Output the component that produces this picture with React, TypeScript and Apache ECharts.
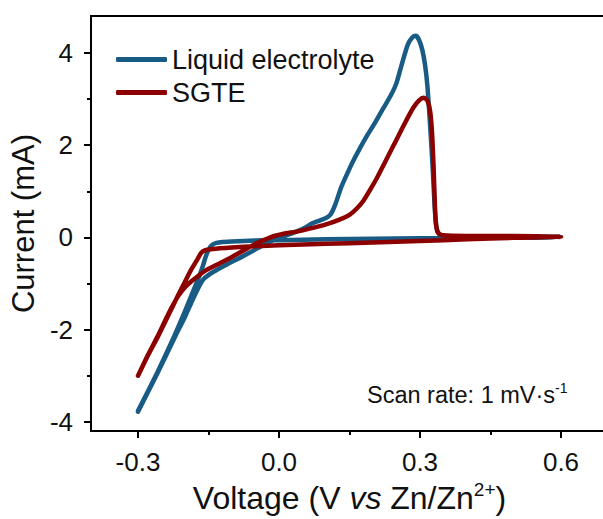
import React, { useEffect, useRef } from "react";
import * as echarts from "echarts";

// Liquid electrolyte CV (forward sweep from -0.3 V, then return)
const liquidV = [
  -0.3, -0.26, -0.222, -0.2, -0.185, -0.172, -0.16, -0.145, -0.13, -0.11, -0.09, -0.07, -0.05, -0.03, -0.012,
  0.0, 0.02, 0.038, 0.055, 0.07, 0.085, 0.1, 0.11, 0.12, 0.132, 0.145, 0.157, 0.172, 0.187, 0.205, 0.222,
  0.238, 0.25, 0.262, 0.274, 0.284, 0.291, 0.298, 0.305, 0.311, 0.316, 0.322, 0.327, 0.331, 0.335, 0.341,
  0.36, 0.45, 0.6,
  0.5, 0.4, 0.3, 0.2, 0.1, 0.0, -0.05, -0.1, -0.12, -0.133, -0.143, -0.15, -0.156, -0.162, -0.17, -0.18,
  -0.2, -0.222, -0.26, -0.3,
];
const liquidI = [
  -3.78, -2.97, -2.17, -1.72, -1.38, -1.1, -0.9, -0.78, -0.69, -0.58, -0.48, -0.37, -0.26, -0.15, -0.06,
  -0.01, 0.06, 0.13, 0.21, 0.3, 0.36, 0.42, 0.5, 0.72, 1.08, 1.38, 1.64, 1.93, 2.2, 2.5, 2.8,
  3.08, 3.35, 3.78, 4.18, 4.34, 4.37, 4.28, 4.06, 3.72, 3.25, 2.35, 1.5, 0.7, 0.22, 0.07,
  0.03, 0.02, 0.01,
  -0.01, -0.01, -0.02, -0.03, -0.04, -0.06, -0.07, -0.09, -0.1, -0.12, -0.17, -0.27, -0.42, -0.62, -0.85, -1.1,
  -1.6, -2.12, -2.95, -3.76,
];

// SGTE CV
const sgteV = [
  -0.3, -0.28, -0.258, -0.235, -0.215, -0.2, -0.185, -0.17, -0.155, -0.13, -0.103, -0.085, -0.068, -0.05,
  -0.03, -0.01, 0.01, 0.04, 0.07, 0.1, 0.13, 0.15, 0.165, 0.18, 0.195, 0.21, 0.225, 0.24, 0.255, 0.27,
  0.285, 0.298, 0.308, 0.316, 0.322, 0.326, 0.329, 0.331, 0.333, 0.337, 0.345, 0.4, 0.5, 0.6,
  0.5, 0.4, 0.3, 0.2, 0.1, 0.0, -0.05, -0.1, -0.14, -0.158, -0.166, -0.175, -0.187, -0.2, -0.215, -0.235,
  -0.258, -0.28, -0.3,
];
const sgteI = [
  -3.0, -2.57, -2.14, -1.65, -1.28, -1.08, -0.94, -0.82, -0.71, -0.58, -0.44, -0.34, -0.24, -0.14,
  -0.05, 0.03, 0.08, 0.13, 0.2, 0.28, 0.39, 0.49, 0.62, 0.8, 1.05, 1.32, 1.62, 1.92, 2.22, 2.52,
  2.8, 2.97, 3.03, 2.96, 2.7, 2.2, 1.5, 0.9, 0.4, 0.12, 0.05, 0.03, 0.03, 0.02,
  -0.01, -0.04, -0.08, -0.11, -0.14, -0.17, -0.19, -0.22, -0.25, -0.28, -0.34, -0.5, -0.7, -0.96, -1.26, -1.68,
  -2.16, -2.58, -3.0,
];

const xLabelValues = [-0.3, 0.0, 0.3, 0.6];
const xMinorValues = [-0.15, 0.15, 0.45];
const yLabelValues = [-4, -2, 0, 2, 4];
const yMinorValues = [-3, -1, 1, 3];

const seriesNames = ["Liquid electrolyte", "SGTE"];
const seriesColors = ["#185b85", "#8c0000"];

const FONT = "'Liberation Sans', Arial, sans-serif";
const TEXT = "#111";

const zip = (a: number[], b: number[]) => a.map((v, i) => [v, b[i]]);

export default function App() {
  const ref = useRef<HTMLDivElement>(null);
  useEffect(() => {
    if (!ref.current) return;
    const chart = echarts.init(ref.current, null, { renderer: "svg" });
    const tickStyle = { color: "#000", width: 2 };
    chart.setOption({
      animation: false,
      backgroundColor: "#ffffff",
      grid: {
        left: 86,
        top: 16,
        width: 522,
        height: 421,
        show: true,
        borderColor: "#000",
        borderWidth: 2,
        backgroundColor: "transparent",
      },
      legend: {
        orient: "vertical",
        left: 111,
        top: 41,
        itemWidth: 51,
        itemHeight: 5,
        itemGap: 6,
        icon: "roundRect",
        data: seriesNames,
        textStyle: { fontFamily: FONT, fontSize: 27, color: TEXT, lineHeight: 27 },
      },
      xAxis: [
        {
          type: "value",
          min: -0.4,
          max: 0.7,
          position: "bottom",
          splitLine: { show: false },
          axisLine: { show: true, onZero: false, lineStyle: { color: "#000", width: 2 } },
          axisTick: { show: true, customValues: xLabelValues, length: 7, lineStyle: tickStyle },
          axisLabel: {
            customValues: xLabelValues,
            formatter: (v: number) => v.toFixed(1),
            fontFamily: FONT,
            fontSize: 26,
            color: TEXT,
            margin: 18,
          },
          name: "{a|Voltage (V }{i|vs}{a| Zn/Zn}{s|2+}{a|)}",
          nameLocation: "middle",
          nameGap: 42,
          nameTextStyle: {
            rich: {
              a: { fontFamily: FONT, fontSize: 32, color: TEXT, lineHeight: 36 },
              i: { fontFamily: FONT, fontSize: 32, fontStyle: "italic", color: TEXT, lineHeight: 36 },
              s: { fontFamily: FONT, fontSize: 19, color: TEXT, lineHeight: 19, verticalAlign: "top" },
            },
          },
        },
        {
          type: "value",
          min: -0.4,
          max: 0.7,
          position: "bottom",
          splitLine: { show: false },
          axisLine: { show: false, onZero: false },
          axisTick: { show: true, customValues: xMinorValues, length: 4, lineStyle: tickStyle },
          axisLabel: { show: false },
        },
      ],
      yAxis: [
        {
          type: "value",
          min: -4.2,
          max: 4.8,
          position: "left",
          splitLine: { show: false },
          axisLine: { show: true, onZero: false, lineStyle: { color: "#000", width: 2 } },
          axisTick: { show: true, customValues: yLabelValues, length: 7, lineStyle: tickStyle },
          axisLabel: {
            customValues: yLabelValues,
            formatter: (v: number) => String(v),
            fontFamily: FONT,
            fontSize: 26,
            color: TEXT,
            margin: 18,
          },
          name: "Current (mA)",
          nameLocation: "middle",
          nameGap: 46,
          nameTextStyle: { fontFamily: FONT, fontSize: 31, color: TEXT },
        },
        {
          type: "value",
          min: -4.2,
          max: 4.8,
          position: "left",
          splitLine: { show: false },
          axisLine: { show: false, onZero: false },
          axisTick: { show: true, customValues: yMinorValues, length: 4, lineStyle: tickStyle },
          axisLabel: { show: false },
        },
      ],
      graphic: [
        {
          type: "text",
          left: 367,
          top: 381,
          style: {
            text: "{a|Scan rate: 1 mV·s}{s|-1}",
            rich: {
              a: { fontFamily: FONT, fontSize: 23.5, fill: TEXT, lineHeight: 28 },
              s: { fontFamily: FONT, fontSize: 14, fill: TEXT, lineHeight: 14, verticalAlign: "top" },
            },
          },
        },
      ],
      series: [
        {
          name: seriesNames[0],
          type: "line",
          data: zip(liquidV, liquidI),
          showSymbol: false,
          symbol: "none",
          smooth: 0.2,
          color: seriesColors[0],
          lineStyle: { width: 4.5, color: seriesColors[0], cap: "round", join: "round" },
          xAxisIndex: 0,
          yAxisIndex: 0,
        },
        {
          name: seriesNames[1],
          type: "line",
          data: zip(sgteV, sgteI),
          showSymbol: false,
          symbol: "none",
          smooth: 0.2,
          color: seriesColors[1],
          lineStyle: { width: 4.5, color: seriesColors[1], cap: "round", join: "round" },
          xAxisIndex: 0,
          yAxisIndex: 0,
        },
      ],
    });
    return () => chart.dispose();
  }, []);
  return (
    <div style={{ position: "absolute", left: 0, top: 0, width: 603, height: 519, overflow: "hidden", background: "#fff" }}>
      <div ref={ref} style={{ width: 640, height: 519 }} />
    </div>
  );
}
